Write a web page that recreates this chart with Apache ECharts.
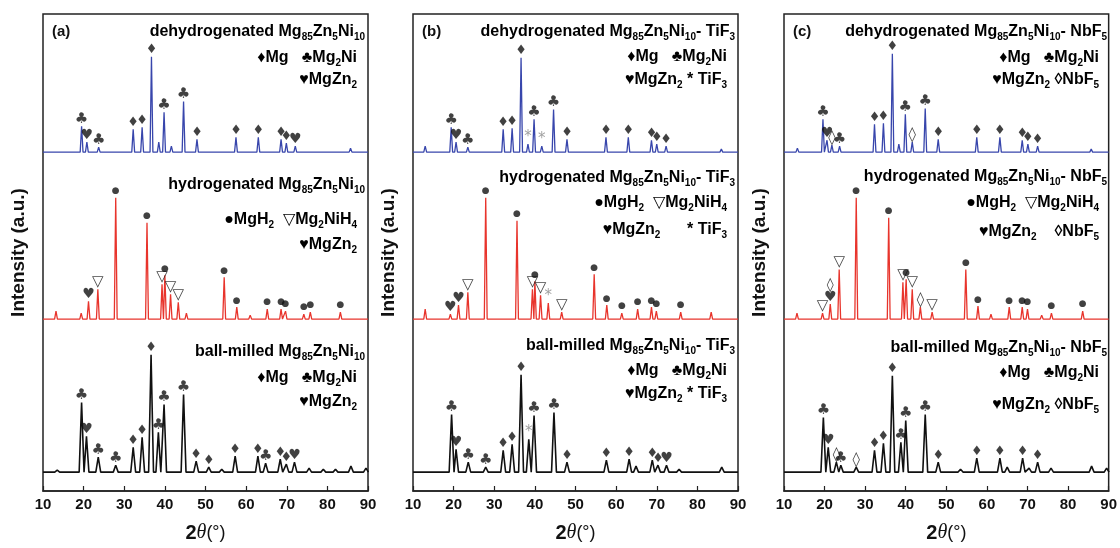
<!DOCTYPE html>
<html>
<head>
<meta charset="utf-8">
<script src="https://cdn.jsdelivr.net/npm/echarts@6/dist/echarts.min.js"></script>
<style>
  html, body { margin: 0; padding: 0; background: #fff; }
  #chart { width: 1120px; height: 548px; }
</style>
</head>
<body>
<div id="chart"></div>
<script>
// peaks: [2theta, height above baseline, marker]
var aDehyd = [[12.7,2,''],[19.5,26,'♣'],[20.8,10,'♥'],[23.7,5,'♣'],[32.2,23,'♦'],[34.4,25,'♦'],[36.7,96,'♦'],[38.5,10,''],[39.8,40,'♣'],[41.6,6,''],[44.6,51,'♣'],[47.9,13,'♦'],[57.5,15,'♦'],[63.0,15,'♦'],[68.6,13,'♦'],[69.9,9,'♦'],[72.1,6,'♥'],[85.7,4,'']];
var aHyd = [[13.2,8,''],[19.4,6,''],[21.2,18,'♥'],[23.5,30,'▽'],[27.9,122,'●'],[35.6,97,'●'],[39.3,35,'▽'],[40.0,44,'●'],[41.4,25,'▽'],[43.3,17,'▽'],[45.3,6,''],[54.6,42,'●'],[57.7,12,'●'],[61.0,4,''],[65.2,10,'●'],[68.6,10,'●'],[69.7,8,'●'],[74.2,5,'●'],[75.8,7,'●'],[83.2,7,'●']];
var aBall = [[13.5,2,''],[19.5,70,'♣'],[20.7,36,'♥'],[23.6,15,'♣'],[27.9,7,'♣'],[32.2,25,'♦'],[34.4,35,'♦'],[36.6,118,'♦'],[38.4,40,'♣'],[39.8,68,'♣'],[44.6,78,'♣'],[47.7,11,'♦'],[50.8,5,'♦'],[54.0,3,''],[57.3,16,'♦'],[62.9,16,'♦'],[64.8,9,'♣'],[68.4,13,'♦'],[69.9,8,'♦'],[71.9,10,'♥'],[75.5,4,''],[79.0,3,''],[82.0,3,''],[85.8,6,''],[89.5,4,'']];

var bDehyd = [[13.0,6,''],[19.4,25,'♣'],[20.6,10,'♥'],[23.5,5,'♣'],[32.2,23,'♦'],[34.4,24,'♦'],[36.6,95,'♦'],[38.3,8,'*'],[39.8,33,'♣'],[41.7,6,'*'],[44.6,43,'♣'],[47.9,13,'♦'],[57.5,15,'♦'],[63.0,15,'♦'],[68.7,12,'♦'],[70.0,8,'♦'],[72.3,6,'♦'],[85.9,3,'']];
var bHyd = [[13.0,10,''],[19.2,5,'♥'],[21.2,14,'♥'],[23.5,27,'▽'],[27.9,122,'●'],[35.6,99,'●'],[39.4,30,'▽'],[40.0,38,'●'],[41.4,24,'▽'],[43.3,16,'*'],[46.6,7,'▽'],[54.6,45,'●'],[57.7,14,'●'],[61.4,6,'●'],[65.3,10,'●'],[68.7,12,'●'],[69.9,8,'●'],[75.9,7,'●'],[83.4,7,'']];
var bBall = [[19.5,58,'♣'],[20.6,23,'♥'],[23.6,10,'♣'],[27.9,5,'♣'],[32.2,22,'♦'],[34.4,28,'♦'],[36.6,98,'♦'],[38.5,33,'*'],[39.8,57,'♣'],[44.7,60,'♣'],[47.9,10,'♦'],[57.6,12,'♦'],[63.2,13,'♦'],[64.9,6,''],[68.9,12,'♦'],[70.3,7,'♦'],[72.4,7,'♥'],[75.5,3,''],[86.0,5,'']];

var cDehyd = [[13.3,4,''],[19.6,33,'♣'],[20.6,12,'♥'],[21.8,7,'◊'],[23.7,6,'♣'],[32.3,28,'♦'],[34.5,29,'♦'],[36.7,99,'♦'],[38.3,8,''],[39.9,38,'♣'],[41.6,10,'◊'],[44.8,44,'♣'],[48.0,13,'♦'],[57.5,15,'♦'],[63.2,15,'♦'],[68.7,12,'♦'],[70.1,8,'♦'],[72.5,6,'♦'],[85.7,3,'']];
var cHyd = [[13.2,6,''],[19.5,6,'▽'],[21.4,15,'◊\n♥'],[23.6,50,'▽'],[27.8,122,'●'],[35.8,102,'●'],[39.3,37,'▽'],[40.1,40,'●'],[41.6,30,'▽'],[43.6,12,'◊'],[46.5,7,'▽'],[54.8,50,'●'],[57.8,13,'●'],[61.0,5,''],[65.5,12,'●'],[68.7,12,'●'],[70.0,10,'●'],[73.5,4,''],[75.9,6,'●'],[83.6,8,'●']];
var cBall = [[19.7,55,'♣'],[20.9,25,'♥'],[22.9,10,'◊'],[24.0,7,'♣'],[27.8,5,'◊'],[32.3,22,'♦'],[34.5,29,'♦'],[36.7,97,'♦'],[38.8,30,'♣'],[40.0,52,'♣'],[44.8,58,'♣'],[48.0,10,'♦'],[53.5,3,''],[57.5,14,'♦'],[63.2,14,'♦'],[65.0,5,''],[68.8,14,'♦'],[70.4,4,''],[72.5,10,'♦'],[75.8,4,''],[85.8,6,''],[89.5,4,'']];

var xTicks = [10, 20, 30, 40, 50, 60, 70, 80, 90];

var panels = [
  { tag: '(a)', traces: [aDehyd, aHyd, aBall],
    texts: [
      ['dehydrogenated Mg_85Zn_5Ni_10', 32], ['♦Mg   ♣Mg_2Ni', 58], ['♥MgZn_2', 80],
      ['hydrogenated Mg_85Zn_5Ni_10', 185], ['●MgH_2  ▽Mg_2NiH_4', 220], ['♥MgZn_2', 245],
      ['ball-milled Mg_85Zn_5Ni_10', 352], ['♦Mg   ♣Mg_2Ni', 378], ['♥MgZn_2', 402]
    ] },
  { tag: '(b)', traces: [bDehyd, bHyd, bBall],
    texts: [
      ['dehydrogenated Mg_85Zn_5Ni_10- TiF_3', 32], ['♦Mg   ♣Mg_2Ni', 57], ['♥MgZn_2 * TiF_3', 80],
      ['hydrogenated Mg_85Zn_5Ni_10- TiF_3', 178], ['●MgH_2  ▽Mg_2NiH_4', 203], ['♥MgZn_2      * TiF_3', 230],
      ['ball-milled Mg_85Zn_5Ni_10- TiF_3', 346], ['♦Mg   ♣Mg_2Ni', 371], ['♥MgZn_2 * TiF_3', 394]
    ] },
  { tag: '(c)', traces: [cDehyd, cHyd, cBall],
    texts: [
      ['dehydrogenated Mg_85Zn_5Ni_10- NbF_5', 32], ['♦Mg   ♣Mg_2Ni', 58], ['♥MgZn_2 ◊NbF_5', 80],
      ['hydrogenated Mg_85Zn_5Ni_10- NbF_5', 177], ['●MgH_2  ▽Mg_2NiH_4', 203], ['♥MgZn_2    ◊NbF_5', 232],
      ['ball-milled Mg_85Zn_5Ni_10- NbF_5', 348], ['♦Mg   ♣Mg_2Ni', 373], ['♥MgZn_2 ◊NbF_5', 405]
    ] }
];

// layout
var grids = [{ left: 43, width: 325 }, { left: 413, width: 325 }, { left: 784, width: 326 }];
var baselines = [341, 173, 19];
var colors = ['#3846ac', '#e8342c', '#111111'];
var halfWidth = [0.35, 0.35, 0.6];
var FONT = '"Liberation Sans", Arial, "DejaVu Sans", sans-serif';

function profile(peaks, base, w) {
  var pts = [[10, base]];
  peaks.forEach(function (p) {
    var last = pts[pts.length - 1][0];
    if (p[0] - w > last) pts.push([p[0] - w, base]);
    pts.push([p[0], base + p[1]]);
    pts.push([p[0] + w, base]);
  });
  pts.push([90, base]);
  return pts;
}

var glyphSize = { '♦': 13, '♣': 15, '♥': 14, '●': 9, '▽': 15, '◊': 15, '*': 15 };
function markers(peaks, base) {
  return peaks.filter(function (p) { return p[2]; }).map(function (p) {
    var g = p[2];
    return {
      value: [p[0], base + p[1]],
      label: {
        formatter: g,
        fontSize: glyphSize[g.charAt(g.length - 1)] || 13,
        lineHeight: 12,
        color: g === '*' ? '#8a8a8a' : '#111'
      }
    };
  });
}

function chem(str) {
  return str.split(/(_\d+|\*)/).filter(Boolean).map(function (s) {
    if (s.charAt(0) === '_') return '{s|' + s.slice(1) + '}';
    if (s === '*') return '{g|*}';
    return '{t|' + s + '}';
  }).join('');
}

var rich = {
  t: { fontSize: 16, fontWeight: 'bold', fontFamily: FONT, color: '#111', lineHeight: 20 },
  s: { fontSize: 10, fontWeight: 'bold', fontFamily: FONT, color: '#111', verticalAlign: 'bottom', lineHeight: 13 },
  g: { fontSize: 16, fontWeight: 'bold', fontFamily: FONT, color: '#8a8a8a', lineHeight: 20 }
};

var option = {
  backgroundColor: '#fff',
  animation: false,
  grid: grids.map(function (g) {
    return { left: g.left, width: g.width, top: 14, bottom: 54, show: true, borderColor: '#222', borderWidth: 1.5, backgroundColor: 'transparent' };
  }),
  xAxis: grids.map(function (g, i) {
    return {
      gridIndex: i, type: 'value', min: 10, max: 90, interval: 10,
      axisLine: { show: true, lineStyle: { color: '#222', width: 1.5 } },
      axisTick: { show: true, inside: true, length: 5, lineStyle: { color: '#222', width: 1.2 } },
      axisLabel: { fontSize: 15, fontWeight: 'bold', color: '#111', fontFamily: FONT, margin: 6,
        formatter: function (v) { return xTicks.indexOf(v) >= 0 ? String(v) : ''; } },
      splitLine: { show: false },
      name: '{b|2}{i|θ}{n|(°)}', nameLocation: 'middle', nameGap: 32,
      nameTextStyle: { rich: {
        b: { fontSize: 20, fontWeight: 'bold', fontFamily: FONT, color: '#111' },
        i: { fontSize: 20, fontStyle: 'italic', fontFamily: '"Liberation Serif", serif', color: '#111' },
        n: { fontSize: 18, fontFamily: FONT, color: '#111' }
      } }
    };
  }),
  yAxis: grids.map(function (g, i) {
    return {
      gridIndex: i, type: 'value', min: 0, max: 480,
      axisLine: { show: false }, axisTick: { show: false }, axisLabel: { show: false }, splitLine: { show: false },
      name: 'Intensity (a.u.)', nameLocation: 'middle', nameGap: 15,
      nameTextStyle: { fontSize: 19, fontWeight: 'bold', color: '#111', fontFamily: FONT }
    };
  }),
  series: [],
  graphic: []
};

panels.forEach(function (panel, i) {
  panel.traces.forEach(function (peaks, k) {
    option.series.push({
      type: 'line', xAxisIndex: i, yAxisIndex: i, symbol: 'none', z: 2,
      lineStyle: { color: colors[k], width: k === 2 ? 1.6 : 1.3 },
      data: profile(peaks, baselines[k], halfWidth[k])
    });
    option.series.push({
      type: 'scatter', xAxisIndex: i, yAxisIndex: i, symbolSize: 0, z: 3,
      label: { show: true, position: 'top', distance: 1, fontFamily: '"DejaVu Sans", sans-serif' },
      data: markers(peaks, baselines[k])
    });
  });
  var right = grids[i].left + grids[i].width;
  option.graphic.push({
    type: 'text', left: grids[i].left + 9, top: 24,
    style: { text: panel.tag, font: 'bold 15px ' + FONT, fill: '#111' }
  });
  panel.texts.forEach(function (t, j) {
    var isTitle = j % 3 === 0;
    option.graphic.push({
      type: 'text', x: right - (isTitle ? 3 : 11), y: t[1],
      style: { text: chem(t[0]), rich: rich, align: 'right', verticalAlign: 'middle' }
    });
  });
});

var chart = echarts.init(document.getElementById('chart'));
chart.setOption(option);
</script>
</body>
</html>
